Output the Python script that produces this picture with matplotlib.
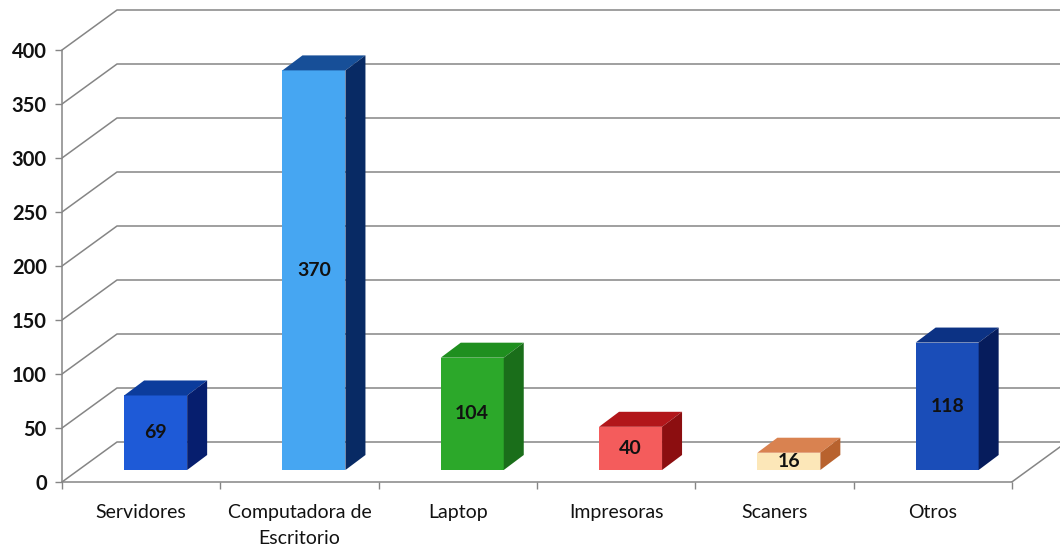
import matplotlib
matplotlib.use("Agg")
import matplotlib.pyplot as plt
from matplotlib.patches import Polygon

# ---------------- data ----------------
categories = ["Servidores", "Computadora de\nEscritorio", "Laptop", "Impresoras", "Scaners", "Otros"]
values = [69, 370, 104, 40, 16, 118]
front_colors = ["#1e5ad7", "#46a6f2", "#2ca82a", "#f45c5c", "#fce7b8", "#1a4db8"]
top_colors = ["#0c3c9c", "#174f98", "#1f8f1f", "#b2161a", "#d98250", "#0c3284"]
side_colors = ["#061e6e", "#082a64", "#1a6e1a", "#8c0e10", "#b8622e", "#061c5c"]
yticks = [0, 50, 100, 150, 200, 250, 300, 350, 400]

# ---------------- layout (pixels) ----------------
W, H = 1060, 546
AX_L, AX_B = 62, 64
CAT_PX = 158.3          # pixels per category
VAL_PX = 54 / 50        # pixels per value unit
WALL_DX, WALL_DY = 55, 40     # back wall offset
FRONT_DX, FRONT_DY = 14.5, 12  # bar front face offset
DEPTH_DX, DEPTH_DY = 20, 15    # bar depth
BAR_W_PX = 63

plt.rcParams['font.family'] = ['Lato', 'DejaVu Sans']

fig = plt.figure(figsize=(W / 100, H / 100), dpi=100)
ax = fig.add_axes([AX_L / W, AX_B / H, (W - AX_L) / W, (H - AX_B) / H])
xmin = -0.5
xmax = xmin + (W - AX_L) / CAT_PX
ax.set_xlim(xmin, xmax)
ax.set_ylim(0, (H - AX_B) / VAL_PX)

px_x = lambda p: p / CAT_PX
px_y = lambda p: p / VAL_PX

grid_col = "#858585"
n = len(categories)
xlast = n - 0.5

# back wall gridlines with diagonals
for v in yticks:
    ax.plot([xmin, xmin + px_x(WALL_DX), xmax + 1],
            [v, v + px_y(WALL_DY), v + px_y(WALL_DY)],
            color=grid_col, lw=1.1, zorder=1, clip_on=True, solid_capstyle='butt')
# right floor diagonal
ax.plot([xlast, xlast + px_x(WALL_DX)], [0, px_y(WALL_DY)], color=grid_col, lw=1.1, zorder=1)

# bars
bw = px_x(BAR_W_PX)
fdx, fdy = px_x(FRONT_DX), px_y(FRONT_DY)
ddx, ddy = px_x(DEPTH_DX), px_y(DEPTH_DY)
for i, v in enumerate(values):
    xc = i + fdx
    xl, xr = xc - bw / 2, xc + bw / 2
    y0, y1 = fdy, fdy + v
    ax.bar(xc, v, bottom=y0, width=bw, color=front_colors[i], lw=0, zorder=3)
    ax.add_patch(Polygon([(xl, y1), (xr, y1), (xr + ddx, y1 + ddy), (xl + ddx, y1 + ddy)],
                         closed=True, facecolor=top_colors[i], lw=0, zorder=3))
    ax.add_patch(Polygon([(xr, y0), (xr + ddx, y0 + ddy), (xr + ddx, y1 + ddy), (xr, y1)],
                         closed=True, facecolor=side_colors[i], lw=0, zorder=3))
    ax.text(xc, (y0 + y1) / 2, str(v), ha='center', va='center', fontsize=14,
            fontweight='bold', color='#111111', zorder=4)

# spines
for s in ['top', 'right']:
    ax.spines[s].set_visible(False)
ax.spines['left'].set_bounds(0, 400)
ax.spines['bottom'].set_bounds(xmin, xlast)
for s in ['left', 'bottom']:
    ax.spines[s].set_color(grid_col)
    ax.spines[s].set_linewidth(1.1)
    ax.spines[s].set_zorder(2)

ax.set_yticks(yticks)
ax.set_yticklabels([str(t) for t in yticks], fontsize=14.5, fontweight='bold', color='#111111')
ax.tick_params(axis='y', length=5, width=1, color=grid_col, pad=6)

ax.set_xticks(range(n))
ax.set_xticklabels(categories, fontsize=14, color='#111111', linespacing=1.6, va='top')
ax.set_xticks([i - 0.5 for i in range(n + 1)], minor=True)
ax.tick_params(axis='x', which='major', length=0, pad=16)
ax.tick_params(axis='x', which='minor', length=5, width=1, color=grid_col)

ax.set_facecolor('white')
fig.savefig("out.png", dpi=100, facecolor='white')
